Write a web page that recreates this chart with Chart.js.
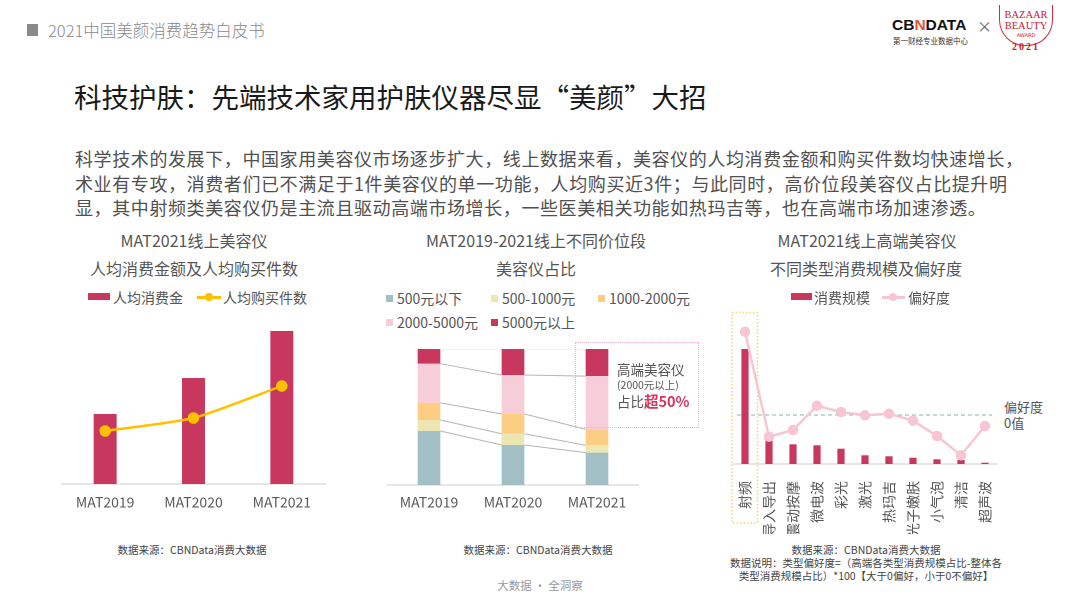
<!DOCTYPE html>
<html><head><meta charset="utf-8">
<script src="https://cdn.jsdelivr.net/npm/chart.js@4.4.0/dist/chart.umd.min.js"></script>
<style>
body{margin:0;background:#fff;width:1080px;height:600px;overflow:hidden;position:relative;font-family:"Noto Sans CJK SC","Noto Sans",sans-serif;}
.abs{position:absolute;white-space:nowrap;}
.ctitle{position:absolute;font-size:16px;color:#555;text-align:center;line-height:28px;white-space:nowrap;transform:translateX(-50%);}
.lg{position:absolute;font-size:14px;color:#555;line-height:18px;white-space:nowrap;}
.note{position:absolute;font-size:10.5px;color:#444;white-space:nowrap;line-height:13px;text-align:center;}
canvas{position:absolute;}
</style></head>
<body>
<!-- header -->
<div class="abs" style="left:27px;top:24px;width:11px;height:12px;background:#8a8a8a"></div>
<div class="abs" style="left:48px;top:19px;font-size:16.5px;color:#8a8a8a;line-height:22px;font-weight:300">2021中国美颜消费趋势白皮书</div>
<div class="abs" style="left:892px;top:15px;font-family:'Liberation Sans',sans-serif;font-size:15.5px;font-weight:bold;color:#111;line-height:20px">CB<span style="color:#e8543a">N</span>DATA</div>
<div class="abs" style="left:893px;top:36px;font-size:7.5px;color:#333;line-height:9px">第一财经专业数据中心</div>
<div class="abs" style="left:977px;top:16px;font-size:15px;color:#666;line-height:20px">×</div>
<div class="abs" style="left:999px;top:5px;width:52px;height:40px;border:1.5px solid #d0303d;border-top:none;border-radius:0 0 26px 26px;"></div>
<div class="abs" style="left:1000px;top:6px;width:52px;height:52px;text-align:center;color:#c8202f;font-family:'Liberation Serif',serif;">
  <div style="font-size:10.5px;line-height:11px;margin-top:3px">BAZAAR</div>
  <div style="font-size:10.5px;line-height:11px">BEAUTY</div>
  <div style="font-size:5px;line-height:8px;font-family:'DejaVu Sans'">AWARD</div>
  <div style="font-size:10px;line-height:16px;letter-spacing:2px;font-weight:bold">2021</div>
</div>
<!-- title -->
<div class="abs" style="left:74px;top:77px;font-size:27.5px;color:#1a1a1a;line-height:38px">科技护肤：先端技术家用护肤仪器尽显“美颜”大招</div>
<div class="abs" style="left:75px;top:146px;font-size:18px;color:#505050;line-height:24.5px;letter-spacing:0.6px">科学技术的发展下，中国家用美容仪市场逐步扩大，线上数据来看，美容仪的人均消费金额和购买件数均快速增长，<br>术业有专攻，消费者们已不满足于1件美容仪的单一功能，人均购买近3件；与此同时，高价位段美容仪占比提升明<br>显，其中射频类美容仪仍是主流且驱动高端市场增长，一些医美相关功能如热玛吉等，也在高端市场加速渗透。</div>

<!-- chart 1 titles -->
<div class="ctitle" style="left:194px;top:226px">MAT2021线上美容仪</div>
<div class="ctitle" style="left:194px;top:254px">人均消费金额及人均购买件数</div>
<canvas id="c1" width="265" height="190" style="left:61px;top:324px;width:265px;height:190px"></canvas>

<!-- chart 2 titles -->
<div class="ctitle" style="left:536px;top:226px">MAT2019-2021线上不同价位段</div>
<div class="ctitle" style="left:536px;top:254px">美容仪占比</div>
<canvas id="c2" width="252" height="166" style="left:387px;top:349px;width:252px;height:166px"></canvas>
<div class="abs" style="left:575px;top:342px;width:122px;height:84px;border:1.5px dotted #f2b3c4"></div>
<div class="abs" style="left:617px;top:360px;font-size:13.5px;color:#555;line-height:18px">高端美容仪</div>
<div class="abs" style="left:617px;top:378px;font-size:10.5px;color:#555;line-height:14px">(2000元以上)</div>
<div class="abs" style="left:617px;top:391px;font-size:13.5px;color:#555;line-height:20px">占比<span style="color:#d8355e;font-weight:bold;font-size:14.5px">超50%</span></div>

<!-- chart 3 titles -->
<div class="ctitle" style="left:867px;top:226px">MAT2021线上高端美容仪</div>
<div class="ctitle" style="left:866px;top:254px">不同类型消费规模及偏好度</div>
<canvas id="c3" width="276" height="229" style="left:725px;top:305px;width:276px;height:229px"></canvas>
<div class="abs" style="left:1004px;top:399px;font-size:13px;color:#555;line-height:16px">偏好度<br>0值</div>

<!-- notes -->
<div class="note" style="left:192px;top:543px;transform:translateX(-50%)">数据来源：CBNData消费大数据</div>
<div class="note" style="left:538px;top:543px;transform:translateX(-50%)">数据来源：CBNData消费大数据</div>
<div class="note" style="left:866px;top:543px;transform:translateX(-50%)">数据来源：CBNData消费大数据<br>数据说明：类型偏好度=（高端各类型消费规模占比-整体各<br>类型消费规模占比）*100【大于0偏好，小于0不偏好】</div>
<div class="abs" style="left:540px;top:578px;transform:translateX(-50%);font-size:11.5px;color:#9a9a9a;line-height:15px">大数据 · 全洞察</div>

<script>
// ---------- data ----------
const c1Categories = ['MAT2019', 'MAT2020', 'MAT2021'];
const c1SeriesNames = ['人均消费金', '人均购买件数'];
const c1Spend = [70, 106, 153];
const c1Items = [53, 66, 98];

const c2Categories = ['MAT2019', 'MAT2020', 'MAT2021'];
const c2SeriesNames = ['500元以下', '500-1000元', '1000-2000元', '2000-5000元', '5000元以上'];
const c2Under500 = [39.7, 29.4, 23.8];
const c2From500 = [8.1, 8.3, 5.4];
const c2From1000 = [12.7, 14.5, 11.8];
const c2From2000 = [28.7, 28.7, 39.1];
const c2Over5000 = [10.8, 19.1, 19.9];

const c3Categories = ['射频', '导入导出', '震动按摩', '微电波', '彩光', '激光', '热玛吉', '光子嫩肤', '小气泡', '清洁', '超声波'];
const c3SeriesNames = ['消费规模', '偏好度'];
const c3Scale = [115, 27.3, 19.7, 18.7, 15.3, 8.7, 7.7, 6.3, 4.7, 4.0, 1.3];
const c3Pref = [83.3, -21.7, -15, 9.3, 3, -0.3, 1.3, -5.7, -21, -40.3, -11];

// ---------- styles ----------
const FONT = '"Noto Sans CJK SC","Noto Sans",sans-serif';
const RED = '#c8385e', GOLD = '#ffc000', PINKLINE = '#f8c6d3';
const c2Colors = ['#a1bfc4', '#ece7b2', '#fecd84', '#f6cdd8', '#c8385e'];

// ---------- legends (HTML) ----------
function addLegend(html){ document.body.insertAdjacentHTML('beforeend', html); }
addLegend(`<div class="abs" style="left:88px;top:293px;width:22px;height:7px;background:${RED}"></div>
<div class="lg" style="left:113px;top:288px">${c1SeriesNames[0]}</div>
<div class="abs" style="left:197px;top:296px;width:24px;height:2.5px;background:${GOLD}"></div>
<div class="abs" style="left:205px;top:293px;width:8px;height:8px;border-radius:50%;background:${GOLD}"></div>
<div class="lg" style="left:223px;top:288px">${c1SeriesNames[1]}</div>`);
const lg2pos = [[386,298],[491,298],[598,298],[386,322],[491,322]];
c2SeriesNames.forEach((n,i)=>{
  const [x,y] = lg2pos[i];
  addLegend(`<div class="abs" style="left:${x}px;top:${y-3.5}px;width:7px;height:7px;background:${c2Colors[i]}"></div>
  <div class="lg" style="left:${x+11}px;top:${y-9}px">${n}</div>`);
});
addLegend(`<div class="abs" style="left:791px;top:293px;width:21px;height:7px;background:${RED}"></div>
<div class="lg" style="left:814px;top:288px">${c3SeriesNames[0]}</div>
<div class="abs" style="left:882px;top:296px;width:23px;height:2.5px;background:${PINKLINE}"></div>
<div class="abs" style="left:889px;top:293px;width:8px;height:8px;border-radius:50%;background:${PINKLINE}"></div>
<div class="lg" style="left:908px;top:288px">${c3SeriesNames[1]}</div>`);

// ---------- common ----------
const xAxisBase = (h, pad, size) => ({
  grid:{display:false, drawTicks:false},
  border:{display:true, color:'#e6e6e6', width:2},
  ticks:{font:{size:size, family:FONT}, color:'#595959', padding:pad, autoSkip:false},
  afterFit: s => { s.height = h; s.paddingLeft = 0; s.paddingRight = 0; }
});
const baseOpts = {responsive:false, animation:false, devicePixelRatio:2,
  plugins:{legend:{display:false}, tooltip:{enabled:false}}};

// ---------- chart 1 ----------
new Chart(document.getElementById('c1'), {
  type:'bar',
  data:{labels:c1Categories, datasets:[
    {type:'line', label:c1SeriesNames[1], data:c1Items, yAxisID:'y1', borderColor:GOLD, backgroundColor:GOLD,
     borderWidth:2.5, pointRadius:4.5, pointHoverRadius:4.5, tension:0.2, order:0, clip:false},
    {label:c1SeriesNames[0], data:c1Spend, yAxisID:'y', backgroundColor:RED, categoryPercentage:1, barPercentage:0.26, order:1}
  ]},
  options:{...baseOpts, layout:{padding:0, autoPadding:false},
    scales:{x:xAxisBase(30, 10, 14), y:{display:false, min:0, max:160}, y1:{display:false, min:0, max:160}}}
});

// ---------- chart 2 ----------
const c2Data = [c2Under500, c2From500, c2From1000, c2From2000, c2Over5000];
const connectorPlugin = {
  id:'connectors',
  afterDatasetsDraw(chart){
    const ctx = chart.ctx, ys = chart.scales.y;
    const meta = chart.getDatasetMeta(0);
    ctx.save();
    for (let k = 1; k <= c2Data.length; k++) {
      ctx.strokeStyle = k === c2Data.length ? '#e3e3e3' : '#b5b5b5';
      ctx.lineWidth = 1;
      for (let i = 0; i < c2Categories.length - 1; i++) {
        const cum = j => c2Data.slice(0, k).reduce((a, s) => a + s[j], 0);
        const b1 = meta.data[i], b2 = meta.data[i+1];
        ctx.beginPath();
        ctx.moveTo(b1.x + b1.width/2, ys.getPixelForValue(cum(i)));
        ctx.lineTo(b2.x - b2.width/2, ys.getPixelForValue(cum(i+1)));
        ctx.stroke();
      }
    }
    ctx.restore();
  }
};
new Chart(document.getElementById('c2'), {
  type:'bar',
  data:{labels:c2Categories, datasets:c2Data.map((d,i)=>({label:c2SeriesNames[i], data:d, backgroundColor:c2Colors[i],
    categoryPercentage:1, barPercentage:0.27}))},
  options:{...baseOpts, layout:{padding:0, autoPadding:false},
    scales:{x:{...xAxisBase(30, 9, 14), stacked:true}, y:{display:false, stacked:true, min:0, max:100}}},
  plugins:[connectorPlugin]
});

// ---------- chart 3 ----------
const c3Plugin = {
  id:'c3extras',
  beforeDatasetsDraw(chart){
    const ctx = chart.ctx, a = chart.chartArea, y1 = chart.scales.y1, x = chart.scales.x;
    ctx.save();
    ctx.strokeStyle = '#9cc4c0'; ctx.lineWidth = 1.3; ctx.setLineDash([4,3]);
    const zy = y1.getPixelForValue(0);
    ctx.beginPath(); ctx.moveTo(a.left + 4, zy); ctx.lineTo(a.right - 5, zy); ctx.stroke();
    const cx = x.getPixelForValue(0);
    ctx.strokeStyle = '#ffcf7a'; ctx.lineWidth = 1.5; ctx.setLineDash([1.5,2]);
    ctx.strokeRect(cx - 13, a.top - 7.5, 25.5, a.bottom - a.top + 7.5 + 59);
    ctx.restore();
  }
};
new Chart(document.getElementById('c3'), {
  type:'bar',
  data:{labels:c3Categories, datasets:[
    {type:'line', label:c3SeriesNames[1], data:c3Pref, yAxisID:'y1', borderColor:PINKLINE, backgroundColor:PINKLINE,
     borderWidth:2.5, pointRadius:4, pointHoverRadius:4, tension:0, order:0, clip:false},
    {label:c3SeriesNames[0], data:c3Scale, yAxisID:'y', backgroundColor:RED, categoryPercentage:1, barPercentage:0.3, order:1}
  ]},
  options:{...baseOpts, layout:{padding:{left:8, right:4, top:15, bottom:0}, autoPadding:false},
    scales:{
      x:(()=>{const o = xAxisBase(70, 17, 14); o.ticks.minRotation = 90; o.ticks.maxRotation = 90; o.ticks.color='#555'; return o;})(),
      y:{display:false, min:0, max:144},
      y1:{display:false, min:-49, max:95}
    }},
  plugins:[c3Plugin]
});
</script>
</body></html>
